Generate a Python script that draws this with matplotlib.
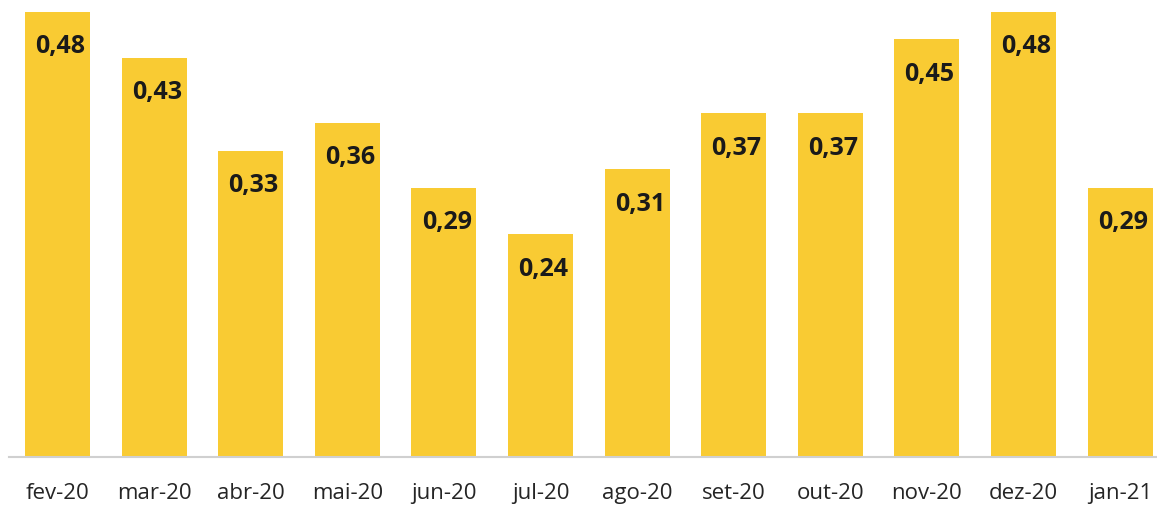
import matplotlib.pyplot as plt

months = ['fev-20', 'mar-20', 'abr-20', 'mai-20', 'jun-20', 'jul-20',
          'ago-20', 'set-20', 'out-20', 'nov-20', 'dez-20', 'jan-21']
values = [0.48, 0.43, 0.33, 0.36, 0.29, 0.24, 0.31, 0.37, 0.37, 0.45, 0.48, 0.29]

plt.rcParams['font.family'] = ['Open Sans', 'DejaVu Sans']

fig = plt.figure(figsize=(11.57, 5.06), dpi=100)
ax = fig.add_axes([9 / 1157, 1 - 457.5 / 506, 1 - 9 / 1157, (457.5 - 12.5) / 506])

x = list(range(len(values)))
ax.bar(x, values, width=0.673, color='#F9CB33', zorder=2)

for i, v in zip(x, values):
    ax.annotate(f"{v:.2f}".replace('.', ','), (i, v), textcoords="offset points",
                xytext=(2, -24.5), ha='center', va='center', fontsize=18,
                fontweight='bold', color='#1a1a1a', annotation_clip=False)
    ax.annotate(months[i], (i, 0), textcoords="offset points", xytext=(0, -26),
                ha='center', va='center', fontsize=16, color='#252525',
                annotation_clip=False)

ax.set_xlim(-0.502, 11.383)
ax.set_ylim(0, 0.48)
ax.set_xticks([])
ax.set_yticks([])
for side in ['top', 'right', 'left']:
    ax.spines[side].set_visible(False)
ax.spines['bottom'].set_color('#d0d0d0')
ax.spines['bottom'].set_linewidth(1.5)
ax.patch.set_alpha(0)

fig.savefig('out.png', dpi=100)
